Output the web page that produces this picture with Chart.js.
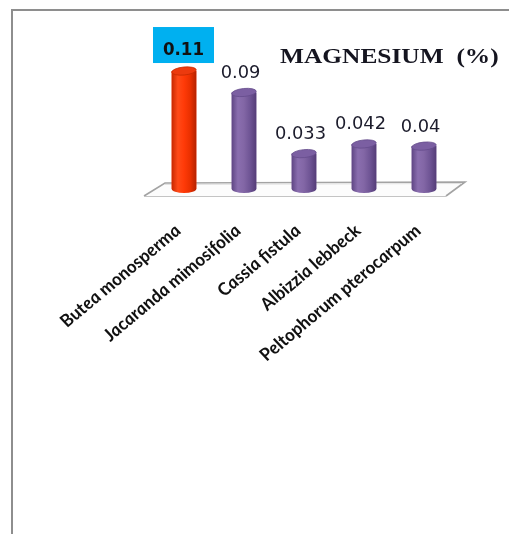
<!DOCTYPE html>
<html>
<head>
<meta charset="utf-8">
<title>Magnesium (%)</title>
<script src="https://cdn.jsdelivr.net/npm/chart.js@4/dist/chart.umd.min.js"></script>
<style>
  html, body { margin: 0; padding: 0; background: #ffffff; }
  canvas { display: block; }
</style>
</head>
<body>
<canvas id="chart" width="509" height="534"></canvas>
<script>
// ---- data ----
const categories = [
  'Butea monosperma',
  'Jacaranda mimosifolia',
  'Cassia fistula',
  'Albizzia lebbeck',
  'Peltophorum pterocarpum'
];
const magnesium = [0.11, 0.09, 0.033, 0.042, 0.04];
const chartTitle = 'MAGNESIUM  (%)';
const yMin = 0;
const yMax = 0.12;

// ---- styling ----
const highlightIndex = 0;             // the tallest species is shown in red with a boxed label
const titleStretch = 1.27;             // horizontal stretch of the title text
const labelStretch = 1.2;              // horizontal stretch of the slanted category labels
const colors = {
  normal: { base: '#8064a2', stops: ['#5f4684', '#8a6eaf', '#8266a5', '#6e5494', '#553d78'], top: '#7b5fa2', topEdge: '#654b8c' },
  highlight: { base: '#ff3300', stops: ['#c82800', '#ff4a18', '#ff3a08', '#ea3000', '#b52200'], top: '#ec3a0e', topEdge: '#c42a00' },
  labelBox: '#00b0f0',
  frame: '#8e8e8e',
  floorEdge: '#a3a3a3',
  floorFront: '#c4c4c4',
  text: '#1c1c2c'
};

function styleFor(i) {
  return i === highlightIndex ? colors.highlight : colors.normal;
}

const decorations = {
  id: 'decorations',
  beforeDraw(chart) {
    const ctx = chart.ctx;
    ctx.save();
    ctx.fillStyle = '#ffffff';
    ctx.fillRect(0, 0, chart.width, chart.height);
    // frame (top and left edges)
    ctx.fillStyle = colors.frame;
    ctx.fillRect(11, 9, chart.width - 11, 2);
    ctx.fillRect(11, 9, 2, chart.height - 9);
    ctx.restore();
  },
  beforeDatasetsDraw(chart) {
    // floor of the 3-D plot
    const ctx = chart.ctx;
    const xs = chart.scales.x, ys = chart.scales.y;
    const base = ys.getPixelForValue(0);
    const l = xs.left, r = xs.right;
    const depth = 7;
    ctx.save();
    ctx.beginPath();
    ctx.moveTo(l - 10, base + depth);
    ctx.lineTo(r - 8, base + depth);
    ctx.lineTo(r + 11, base - depth);
    ctx.lineTo(l + 11, base - depth + 1);
    ctx.closePath();
    ctx.fillStyle = '#fcfcfc';
    ctx.fill();
    ctx.lineWidth = 1.6;
    ctx.strokeStyle = colors.floorEdge;
    ctx.beginPath();
    ctx.moveTo(l - 10, base + depth);
    ctx.lineTo(l + 11, base - depth + 1);
    ctx.lineTo(r + 11, base - depth);
    ctx.lineTo(r - 8, base + depth);
    ctx.stroke();
    ctx.lineWidth = 1;
    ctx.strokeStyle = colors.floorFront;
    ctx.beginPath();
    ctx.moveTo(l - 10, base + depth + 0.5);
    ctx.lineTo(r - 8, base + depth + 0.5);
    ctx.stroke();
    ctx.strokeStyle = '#e2e2e2';
    ctx.beginPath();
    ctx.moveTo(l + 10, base - depth + 2.5);
    ctx.lineTo(r + 8, base - depth + 1.5);
    ctx.stroke();
    ctx.restore();
  },
  afterDatasetsDraw(chart) {
    // turn every bar into a cylinder
    const ctx = chart.ctx;
    const meta = chart.getDatasetMeta(0);
    meta.data.forEach((el, i) => {
      const { x, y, base, width } = el.getProps(['x', 'y', 'base', 'width'], true);
      const st = styleFor(i);
      const rx = width / 2, ry = 4;
      ctx.save();
      const g = ctx.createLinearGradient(x - rx, 0, x + rx, 0);
      st.stops.forEach((c, k) => g.addColorStop(k / (st.stops.length - 1), c));
      ctx.beginPath();
      ctx.moveTo(x - rx, y);
      ctx.lineTo(x - rx, base);
      ctx.ellipse(x, base, rx, ry, 0, Math.PI, 0, true);
      ctx.lineTo(x + rx, y);
      ctx.closePath();
      ctx.fillStyle = g;
      ctx.fill();
      ctx.beginPath();
      ctx.ellipse(x, y, rx, ry, -0.1, 0, Math.PI * 2);
      ctx.fillStyle = st.top;
      ctx.fill();
      ctx.lineWidth = 0.8;
      ctx.strokeStyle = st.topEdge;
      ctx.stroke();
      ctx.restore();
    });
  },
  afterDraw(chart) {
    const ctx = chart.ctx;
    const xs = chart.scales.x;
    const meta = chart.getDatasetMeta(0);
    ctx.save();

    // title
    ctx.fillStyle = '#151520';
    ctx.font = "bold 20px 'Liberation Serif'";
    ctx.textAlign = 'left';
    ctx.textBaseline = 'alphabetic';
    ctx.save();
    ctx.translate(280, 63.3);
    ctx.scale(titleStretch, 1);
    ctx.fillText(chartTitle, 0, 0);
    ctx.restore();

    // value labels
    meta.data.forEach((el, i) => {
      const { x, y } = el.getProps(['x', 'y'], true);
      const text = String(magnesium[i]);
      ctx.save();
      if (i === highlightIndex) {
        const cx = x - 0.5, by = y - 16.5;
        ctx.fillStyle = colors.labelBox;
        ctx.fillRect(cx - 30.5, by - 27.5, 61, 36);
        ctx.font = "bold 17px 'DejaVu Sans'";
        ctx.fillStyle = '#111111';
        ctx.textAlign = 'center';
        ctx.translate(cx, by);
        ctx.scale(0.98, 1);
        ctx.fillText(text, 0, 0);
      } else {
        ctx.font = "17px 'DejaVu Sans'";
        ctx.fillStyle = colors.text;
        ctx.textAlign = 'center';
        ctx.translate(x - 3.5, y - 14.5);
        ctx.scale(1.05, 1);
        ctx.fillText(text, 0, 0);
      }
      ctx.restore();
    });

    // category labels, slanted under each bar
    ctx.font = "italic bold 16.5px Lato";
    ctx.fillStyle = '#111111';
    ctx.textAlign = 'right';
    ctx.textBaseline = 'alphabetic';
    categories.forEach((name, i) => {
      const px = xs.getPixelForValue(i);
      ctx.save();
      ctx.translate(px - 1.5, 232);
      ctx.scale(labelStretch, 1);
      ctx.rotate(-Math.PI / 4);
      ctx.fillText(name, 0, 0);
      ctx.restore();
    });
    ctx.restore();
  }
};

new Chart(document.getElementById('chart'), {
  type: 'bar',
  data: {
    labels: categories,
    datasets: [{
      data: magnesium,
      backgroundColor: magnesium.map((_, i) => styleFor(i).base),
      borderWidth: 0,
      categoryPercentage: 1,
      barPercentage: 0.41
    }]
  },
  options: {
    responsive: false,
    devicePixelRatio: 1,
    animation: false,
    layout: { padding: { left: 154, right: 55, top: 60.3, bottom: 345 } },
    plugins: {
      legend: { display: false },
      tooltip: { enabled: false },
      title: { display: false }
    },
    scales: {
      x: { display: false, offset: true },
      y: { display: false, min: yMin, max: yMax }
    }
  },
  plugins: [decorations]
});
</script>
</body>
</html>
